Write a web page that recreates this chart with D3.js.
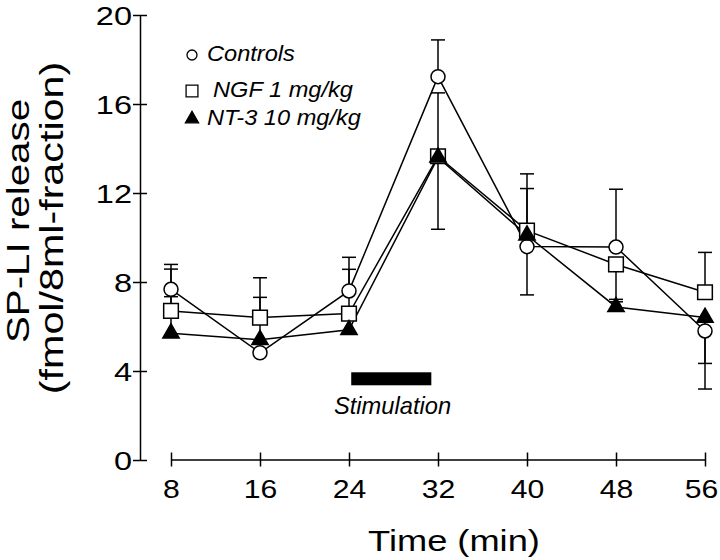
<!DOCTYPE html>
<html>
<head>
<meta charset="utf-8">
<script src="https://cdn.jsdelivr.net/npm/d3@7"></script>
<style>
  html, body { margin: 0; padding: 0; background: #fff; }
  svg { display: block; font-family: "Liberation Sans", Arial, sans-serif; }
</style>
</head>
<body>
<svg id="chart" width="720" height="560"></svg>
<script>
// ---- data ----
const times = [8, 16, 24, 32, 40, 48, 56];
const yTicks = [0, 4, 8, 12, 16, 20];
const seriesNames = ["Controls", "NGF 1 mg/kg", "NT-3 10 mg/kg"];
const controls = [7.67, 4.82, 7.6, 17.23, 9.59, 9.57, 5.8];
const ngf      = [6.7, 6.4, 6.58, 13.65, 10.31, 8.79, 7.54];
const nt3      = [5.7, 5.4, 5.85, 13.6, 10.1, 6.88, 6.4];
// signed error: positive drawn upward, negative drawn downward
const controlsErr = [1.12, 0, 1.51, 1.65, -2.17, 2.6, -2.61];
const ngfErr      = [0.64, 1.79, 1.99, -3.28, 2.55, -1.57, 1.79];
const nt3Err      = [2.88, 1.91, 0, 2.9, 2.1, 0.23, -2.06];
const stimulation = [24.2, 31.4];
const stimLevel = 3.65;
const xTitle = "Time (min)";
const yTitle = ["SP-LI release", "(fmol/8ml-fraction)"];
const stimLabel = "Stimulation";

// ---- scales ----
const svg = d3.select("#chart");
const x = d3.scaleLinear().domain([8, 56]).range([171, 705]);
const y = d3.scaleLinear().domain([0, 20]).range([460, 15]);

const series = [
  { name: seriesNames[0], vals: controls, err: controlsErr, sym: d3.symbolCircle, size: 154, fill: "#fff" },
  { name: seriesNames[1], vals: ngf, err: ngfErr, sym: d3.symbolSquare, size: 215, fill: "#fff" },
  { name: seriesNames[2], vals: nt3, err: nt3Err, sym: d3.symbolTriangle, size: 115, fill: "#000" }
];

// ---- axes ----
const sxTick = 1.25;
const sxX = 1.16;
const yAxis = svg.append("g").attr("transform", "translate(140,0)")
  .call(d3.axisLeft(y).tickValues(yTicks).tickSize(7).tickSizeOuter(0).tickFormat(d3.format("d")));
yAxis.select(".domain").attr("stroke", "#000").attr("stroke-width", 1.5);
yAxis.selectAll(".tick line").attr("x1", 7).attr("stroke", "#000").attr("stroke-width", 1.5);
yAxis.selectAll(".tick text")
  .attr("x", -8 / sxTick).attr("dy", "0.36em")
  .attr("transform", `scale(${sxTick},1)`)
  .attr("fill", "#000").style("font-size", "26px").style("font-family", '"Liberation Sans", Arial, sans-serif');

const xAxis = svg.append("g").attr("transform", "translate(0,459.5)")
  .call(d3.axisBottom(x).tickValues(times).tickSize(7).tickSizeOuter(0).tickFormat(d3.format("d")));
xAxis.select(".domain").attr("stroke", "#000").attr("stroke-width", 1.5);
xAxis.selectAll(".tick line").attr("y1", -7).attr("stroke", "#000").attr("stroke-width", 1.5);
xAxis.selectAll(".tick text")
  .attr("y", 39).attr("dy", 0)
  .attr("x", (d, i) => (i === times.length - 1 ? -4 / sxX : 0))
  .attr("transform", `scale(${sxX},1)`)
  .attr("fill", "#000").style("font-size", "26px").style("font-family", '"Liberation Sans", Arial, sans-serif');

// axis titles
svg.append("text")
  .attr("transform", `translate(454,551) scale(1.25,1)`)
  .attr("text-anchor", "middle").style("font-size", "29px").text(xTitle);
svg.append("text")
  .attr("transform", `translate(29,221) rotate(-90) scale(1.28,1)`)
  .attr("text-anchor", "middle").style("font-size", "31.5px").text(yTitle[0]);
svg.append("text")
  .attr("transform", `translate(63,228) rotate(-90) scale(1.27,1)`)
  .attr("text-anchor", "middle").style("font-size", "32.5px").text(yTitle[1]);

// ---- stimulation bar ----
svg.append("rect")
  .attr("x", x(stimulation[0])).attr("width", x(stimulation[1]) - x(stimulation[0]))
  .attr("y", y(stimLevel) - 6.5).attr("height", 13).attr("fill", "#000");
svg.append("text")
  .attr("transform", `translate(334,414) scale(1.03,1)`)
  .style("font-size", "23px").style("font-style", "italic").text(stimLabel);

// ---- lines ----
const line = d3.line().x((d, i) => x(times[i])).y(d => y(d));
series.forEach(s => {
  svg.append("path").datum(s.vals).attr("d", line)
    .attr("fill", "none").attr("stroke", "#000").attr("stroke-width", 1.5);
});

// ---- error bars ----
const capW = 7;
series.forEach(s => {
  const g = svg.append("g").attr("stroke", "#000").attr("stroke-width", 1.5);
  s.vals.forEach((v, i) => {
    const e = s.err[i];
    if (!e) return;
    const cx = x(times[i]);
    g.append("line").attr("x1", cx).attr("x2", cx).attr("y1", y(v)).attr("y2", y(v + e));
    g.append("line").attr("x1", cx - capW).attr("x2", cx + capW).attr("y1", y(v + e)).attr("y2", y(v + e));
  });
});

// ---- markers ----
series.forEach(s => {
  svg.append("g").selectAll("path").data(s.vals).join("path")
    .attr("transform", (d, i) => `translate(${x(times[i])},${y(d)})`)
    .attr("d", d3.symbol().type(s.sym).size(s.size))
    .attr("fill", s.fill).attr("stroke", "#000").attr("stroke-width", 1.5);
});

// ---- legend ----
const legendY = [55, 91, 119];
const legendTextY = [61, 97, 125];
const legendTextX = [207, 213, 207];
const legendSizes = [78, 140, 75];
series.forEach((s, i) => {
  svg.append("path")
    .attr("transform", `translate(192,${legendY[i]})`)
    .attr("d", d3.symbol().type(s.sym).size(legendSizes[i]))
    .attr("fill", s.fill).attr("stroke", "#000").attr("stroke-width", 1.3);
  svg.append("text")
    .attr("transform", `translate(${legendTextX[i]},${legendTextY[i]}) scale(1.05,1)`)
    .style("font-size", "22.5px").style("font-style", "italic").text(s.name);
});
</script>
</body>
</html>
